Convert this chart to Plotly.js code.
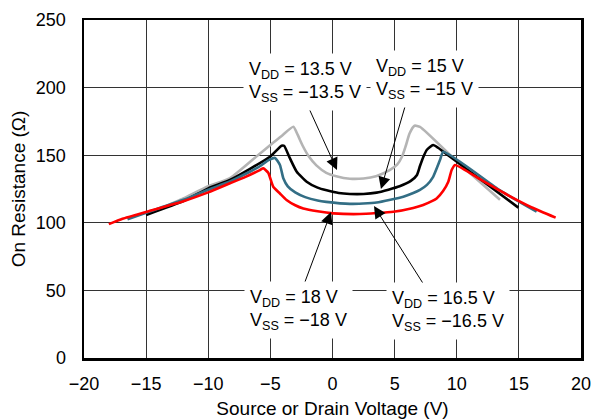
<!DOCTYPE html>
<html>
<head>
<meta charset="utf-8">
<script src="https://cdn.plot.ly/plotly-3.0.1.min.js"></script>
<style>html,body{margin:0;padding:0;background:#fff;}#chart{width:591px;height:419px;}</style>
</head>
<body>
<div id="chart"></div>
<script>
// Series: on-resistance (ohm) vs source/drain voltage (V)
const x135 = [-13.5,-12,-10,-8.25,-6,-5,-4,-3.15,-2.8,-2.4,-1.9,-1.3,-0.5,0.3,1.4,2.5,3.5,4.6,5.2,5.6,5.9,6.2,6.6,7.04,10,13.48];
const y135 = [112,118,127,133,150,157.5,165,171,165,157,149,142.5,137,134.5,132.6,132.8,134.5,139,143,149,157,166,171.8,171,145.5,117];

const x15 = [-15,-12,-10,-8.25,-5.03,-4.1,-3.9,-3.42,-2.88,-2.08,-1.2,-0.47,0.5,1.4,2.5,3.55,4.5,5.4,6.3,6.8,7.04,7.3,7.6,8.1,8.5,8.92,12,14.96];
const y15 = [105.8,116,125.5,131.7,148.9,157,157,147.6,137.8,130.4,126,124,122,121.3,121.3,122.3,124.5,127,131,135.4,142,148.5,154,157.5,155.5,152.6,131.5,111.2];

const x165 = [-16.5,-15,-12,-10,-8.25,-6,-5.1,-4.63,-4.23,-3.96,-3.6,-3.0,-2.2,-1.2,-0.5,1.4,3.55,5.7,6.5,7.04,7.6,8.1,8.65,8.92,13.48,16.43];
const y165 = [102.6,107.5,117,124.5,130.5,141,146.5,148,142.8,133,127,122.5,119,116.5,115.5,114,115,119.3,122,124.3,128,134,146.4,152.6,124,108.2];

const x18 = [-18,-16.9,-14.96,-12,-10,-8.25,-7,-5.84,-5.57,-5.17,-4.77,-4.23,-3.7,-3,-2.35,-1.2,0.07,2.2,4.9,6.5,7.3,8.0,8.38,8.9,9.32,9.59,9.86,12,14,16,17.96];
const y18 = [99,103,108.2,116,122.5,129.2,134,139,140.3,137,126.7,121.7,116.9,113,110.6,108.5,107,106.5,108.2,111,113.2,116,118,123.5,130.4,139,142.8,131.5,121,111.5,103.8];

const xTicks = [-20,-15,-10,-5,0,5,10,15,20];
const yTicks = [0,50,100,150,200,250];

const labels = [
  "V<sub>DD</sub> = 13.5 V<br>V<sub>SS</sub> = \u221213.5 V",
  "V<sub>DD</sub> = 15 V<br>V<sub>SS</sub> = \u221215 V",
  "V<sub>DD</sub> = 16.5 V<br>V<sub>SS</sub> = \u221216.5 V",
  "V<sub>DD</sub> = 18 V<br>V<sub>SS</sub> = \u221218 V"
];

const FONT = "Arial, 'Liberation Sans', sans-serif";

function tr(x, y, color) {
  return {x: x, y: y, type: 'scatter', mode: 'lines',
    line: {color: color, width: 2.6, shape: 'spline', smoothing: 0.5},
    hoverinfo: 'skip', showlegend: false};
}

const data = [
  tr(x135, y135, '#b4b4b4'),
  tr(x15, y15, '#000000'),
  tr(x165, y165, '#336e85'),
  tr(x18, y18, '#ff0000')
];

function lab(text, x, y) {
  return {text: text, x: x, y: y, xref: 'x', yref: 'y', showarrow: false,
    bgcolor: '#ffffff', borderpad: 5, align: 'left',
    font: {family: FONT, size: 18, color: '#000'}};
}
function arr(tx, ty, hx, hy) {
  return {text: '', x: tx, y: ty, ax: hx, ay: hy, xref: 'x', yref: 'y', axref: 'x', ayref: 'y',
    showarrow: true, arrowhead: 2, arrowsize: 2.4, arrowwidth: 1, arrowcolor: '#000', standoff: 0};
}

const layout = {
  width: 591, height: 419,
  margin: {l: 84, r: 10, t: 20, b: 61},
  paper_bgcolor: '#fff', plot_bgcolor: '#fff',
  font: {family: FONT, size: 18, color: '#000'},
  xaxis: {
    range: [-20, 20], tickvals: xTicks, ticktext: xTicks.map(v => v < 0 ? '\u2212' + Math.abs(v) : String(v)),
    showgrid: true, gridcolor: '#333', gridwidth: 1, zeroline: false,
    showline: true, mirror: true, linecolor: '#000', linewidth: 2.5,
    ticks: 'outside', ticklen: 8, tickcolor: 'rgba(0,0,0,0)',
    ticklabeloverflow: 'allow',
    tickfont: {family: FONT, size: 18, color: '#000'},
    title: {text: 'Source or Drain Voltage (V)', font: {family: FONT, size: 19, color: '#000'}, standoff: 10}
  },
  yaxis: {
    range: [0, 250], tickvals: yTicks,
    showgrid: true, gridcolor: '#333', gridwidth: 1, zeroline: false,
    showline: true, mirror: true, linecolor: '#000', linewidth: 2.5,
    ticks: 'outside', ticklen: 12, tickcolor: 'rgba(0,0,0,0)',
    tickfont: {family: FONT, size: 18, color: '#000'},
    title: {text: 'On Resistance (\u03A9)', font: {family: FONT, size: 19, color: '#000'}, standoff: 5}
  },
  annotations: [
    arr(0.36, 139.1, -2.09, 188.6),
    arr(3.9, 125, 5.92, 188.6),
    arr(3.34, 112.4, 7.52, 51.8),
    arr(-0.12, 108, -2.37, 52.5),
    lab(labels[0], -2.21, 204.1),
    lab(labels[1], 7.44, 206.4),
    lab(labels[2], 9.3, 34.8),
    lab(labels[3], -2.74, 35.5)
  ]
};

Plotly.newPlot('chart', data, layout, {staticPlot: true, displayModeBar: false});
</script>
</body>
</html>
